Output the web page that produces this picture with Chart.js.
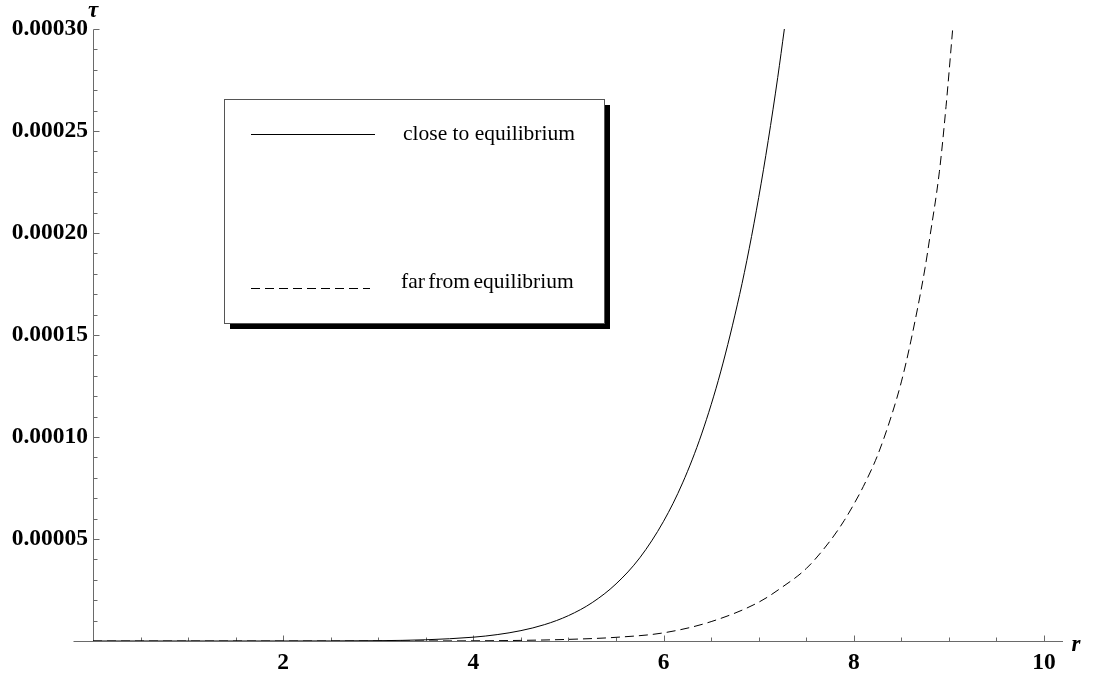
<!DOCTYPE html>
<html>
<head>
<meta charset="utf-8">
<style>
  html, body { margin: 0; padding: 0; background: #fff; overflow: hidden; }
  canvas { display: block; }
</style>
<script src="https://cdn.jsdelivr.net/npm/chart.js@4.4.1/dist/chart.umd.min.js"></script>
</head>
<body>
<canvas id="c" width="1095" height="677"></canvas>
<script>
// Relaxation time tau versus r for the two regimes
const seriesNames = ['close to equilibrium', 'far from equilibrium'];

const rClose = [0, 1, 2, 2.5, 3, 3.5, 4, 4.25, 4.5, 4.75, 5, 5.25, 5.5, 5.75, 6, 6.2, 6.4, 6.6, 6.8, 6.9, 7, 7.1, 7.2, 7.27];
const tauClose = [0, 0, 0.000000005, 0.000000034, 0.00000016, 0.0000006, 0.00000187, 0.00000313, 0.00000509,
  0.00000805, 0.00001245, 0.00001884, 0.000028, 0.0000408, 0.0000587, 0.0000775, 0.0001015, 0.0001319,
  0.0001699, 0.0001923, 0.0002174, 0.0002453, 0.0002762, 0.0003];

const rFar = [0, 1, 2, 3, 4, 4.5, 5, 5.5, 6, 6.5, 7, 7.25, 7.5, 7.75, 7.9, 8, 8.1, 8.25, 8.4, 8.5, 8.6, 8.75, 8.8, 8.9, 8.97, 9.04];
const tauFar = [0, 0, 0, 0.00000001, 0.0000001, 0.0000003, 0.0000008, 0.0000018, 0.000004, 0.0000095,
  0.000019, 0.0000265, 0.0000355, 0.000049, 0.0000591, 0.000067, 0.0000757, 0.000091, 0.000111, 0.000127,
  0.000147, 0.000183, 0.000198, 0.00023, 0.000262, 0.0003];

const xTickValues = [2, 4, 6, 8, 10];
const xTickLabels = ['2', '4', '6', '8', '10'];
const yTickValues = [0.00005, 0.0001, 0.00015, 0.0002, 0.00025, 0.0003];
const yTickLabels = ['0.00005', '0.00010', '0.00015', '0.00020', '0.00025', '0.00030'];

const xAxisTitle = 'r';
const yAxisTitle = '\u03C4';

const SERIF = "'Liberation Serif', 'Times New Roman', serif";
const AXIS_GREY = '#6a6a6a';

function toPoints(xs, ys) {
  return xs.map((v, i) => ({ x: v, y: ys[i] }));
}

// Axes crossing at the origin, with inward major/minor tick marks
const axesPlugin = {
  id: 'originAxes',
  beforeDatasetsDraw(chart) {
    const { ctx, scales: { x, y } } = chart;
    const x0 = Math.round(x.getPixelForValue(0)) + 0.5;
    const y0 = Math.round(y.getPixelForValue(0)) + 0.5;
    ctx.save();
    ctx.strokeStyle = AXIS_GREY;
    ctx.lineWidth = 1;
    ctx.beginPath();
    ctx.moveTo(x0 - 20, y0);
    ctx.lineTo(x.right, y0);
    ctx.moveTo(x0, y0);
    ctx.lineTo(x0, Math.round(y.getPixelForValue(0.0003)) + 0.5);
    // r ticks every 0.5, long ones every 2
    for (let k = 1; k <= 20; k++) {
      const px = Math.round(x.getPixelForValue(k / 2)) + 0.5;
      const len = (k % 4 === 0) ? 6 : 4;
      ctx.moveTo(px, y0);
      ctx.lineTo(px, y0 - len);
    }
    // tau ticks every 0.00001, long ones every 0.00005
    for (let k = 1; k <= 30; k++) {
      const py = Math.round(y.getPixelForValue(k * 0.00001)) + 0.5;
      const len = (k % 5 === 0) ? 6 : 4;
      ctx.moveTo(x0, py);
      ctx.lineTo(x0 + len, py);
    }
    ctx.stroke();
    ctx.restore();
  },
  afterDraw(chart) {
    const { ctx, scales: { x, y } } = chart;
    const x0 = x.getPixelForValue(0);
    const y0 = y.getPixelForValue(0);
    ctx.save();
    ctx.fillStyle = '#000';
    ctx.font = `italic bold 23px ${SERIF}`;
    ctx.textAlign = 'center';
    ctx.textBaseline = 'alphabetic';
    ctx.fillText(yAxisTitle, x0, y.getPixelForValue(0.0003) - 12);
    ctx.fillText(xAxisTitle, x.right + 13, y0 + 10);
    ctx.restore();
  }
};

// Framed legend with a drop shadow
const boxLegendPlugin = {
  id: 'boxLegend',
  afterDraw(chart) {
    const { ctx } = chart;
    const bx = 224, by = 99, bw = 380, bh = 224, sh = 6;
    ctx.save();
    ctx.fillStyle = '#000';
    ctx.fillRect(bx + sh, by + sh, bw, bh);
    ctx.fillStyle = '#fff';
    ctx.fillRect(bx, by, bw, bh);
    ctx.strokeStyle = '#555';
    ctx.lineWidth = 1;
    ctx.strokeRect(bx + 0.5, by + 0.5, bw, bh);

    const rows = [
      { lineY: 134, textY: 140, x1: 251, x2: 375, tx: 403, ws: '0px' },
      { lineY: 288, textY: 288, x1: 251, x2: 370, tx: 401, ws: '-2px' }
    ];
    chart.data.datasets.forEach((ds, i) => {
      const r = rows[i];
      ctx.strokeStyle = ds.borderColor;
      ctx.lineWidth = 1;
      ctx.setLineDash(ds.borderDash || []);
      ctx.beginPath();
      ctx.moveTo(r.x1, r.lineY + 0.5);
      ctx.lineTo(r.x2, r.lineY + 0.5);
      ctx.stroke();
      ctx.setLineDash([]);
      ctx.fillStyle = '#000';
      ctx.font = `21.5px ${SERIF}`;
      ctx.textAlign = 'left';
      ctx.textBaseline = 'alphabetic';
      if ('wordSpacing' in ctx) ctx.wordSpacing = r.ws;
      ctx.fillText(ds.label, r.tx, r.textY);
    });
    ctx.restore();
  }
};

const tickFont = { family: SERIF, size: 23.5, weight: 'bold' };

new Chart(document.getElementById('c'), {
  type: 'line',
  data: {
    datasets: [
      {
        label: seriesNames[0],
        data: toPoints(rClose, tauClose),
        borderColor: '#000',
        borderWidth: 1,
        pointRadius: 0,
        fill: false,
        cubicInterpolationMode: 'monotone'
      },
      {
        label: seriesNames[1],
        data: toPoints(rFar, tauFar),
        borderColor: '#000',
        borderWidth: 1,
        borderDash: [9, 5],
        pointRadius: 0,
        fill: false,
        cubicInterpolationMode: 'monotone'
      }
    ]
  },
  options: {
    responsive: false,
    animation: false,
    devicePixelRatio: 1,
    layout: { padding: { top: 29, right: 32, left: 0, bottom: 0 } },
    plugins: { legend: { display: false }, tooltip: { enabled: false } },
    scales: {
      x: {
        type: 'linear',
        min: 0,
        max: 10.2,
        grid: { display: false, drawTicks: false },
        border: { display: false },
        afterBuildTicks: (s) => { s.ticks = xTickValues.map(v => ({ value: v })); },
        afterFit: (s) => { s.height = 36; },
        ticks: {
          padding: 8,
          color: '#000',
          font: tickFont,
          maxRotation: 0,
          autoSkip: false,
          callback: (v) => xTickLabels[xTickValues.indexOf(v)]
        }
      },
      y: {
        type: 'linear',
        min: 0,
        max: 0.0003,
        grid: { display: false, drawTicks: false },
        border: { display: false },
        afterBuildTicks: (s) => { s.ticks = yTickValues.map(v => ({ value: v })); },
        afterFit: (s) => { s.width = 93; },
        ticks: {
          padding: 5,
          color: '#000',
          font: tickFont,
          autoSkip: false,
          callback: (v) => yTickLabels[yTickValues.indexOf(v)]
        }
      }
    }
  },
  plugins: [axesPlugin, boxLegendPlugin]
});
</script>
</body>
</html>
